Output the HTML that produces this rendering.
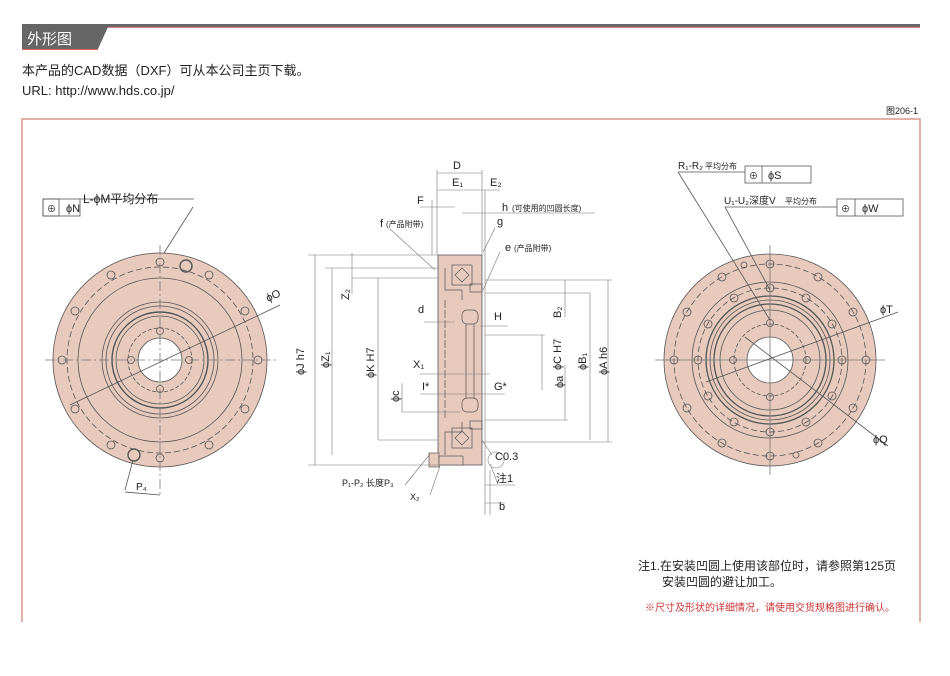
<!DOCTYPE html>
<html><head><meta charset="utf-8"><style>
body{margin:0;background:#fff;width:950px;height:676px;overflow:hidden;font-family:"Liberation Sans","Noto Sans CJK SC",sans-serif}
svg{position:absolute;left:0;top:0}
text{font-family:"Liberation Sans","Noto Sans CJK SC",sans-serif;fill:#222}
</style></head><body>
<svg width="950" height="676" viewBox="0 0 950 676">
<!-- header -->
<rect x="22" y="24" width="898" height="3" fill="#666"/>
<line x1="22" y1="27.5" x2="920" y2="27.5" stroke="#d88" stroke-width="1"/>
<polygon points="22,27 108,27 98,49 22,49" fill="#666"/>
<line x1="22" y1="49.5" x2="98" y2="49.5" stroke="#d66" stroke-width="1"/>
<text x="27" y="44" font-size="15" fill="#fff" style="fill:#fff">外形图</text>
<text x="22" y="75" font-size="13">本产品的CAD数据（DXF）可从本公司主页下载。</text>
<text x="22" y="95" font-size="13" font-family="Liberation Mono">URL: http://www.hds.co.jp/</text>
<text x="918" y="114" font-size="9" text-anchor="end">图206-1</text>
<!-- frame -->
<path d="M22,622 V119 H920 V622" fill="none" stroke="#d9968a" stroke-width="1.5"/>

<!-- LEFT VIEW -->
<g stroke="#555" stroke-width="0.8" fill="none">
<circle cx="160" cy="360" r="107" fill="#e8cabd"/>
<circle cx="160" cy="360" r="93" stroke-dasharray="6 3"/>
<circle cx="160" cy="360" r="82"/>
<circle cx="160" cy="360" r="58"/>
<circle cx="160" cy="360" r="54"/>
<circle cx="160" cy="360" r="48" stroke-width="1.4"/>
<circle cx="160" cy="360" r="44"/>
<circle cx="160" cy="360" r="32" stroke-dasharray="4 2"/>
<circle cx="160" cy="360" r="22" fill="#fff"/>
<circle cx="131" cy="360" r="3.5"/><circle cx="189" cy="360" r="3.5"/>
<circle cx="160" cy="331" r="3.5"/><circle cx="160" cy="389" r="3.5"/>
<g>
<circle cx="160" cy="262" r="4"/><circle cx="160" cy="458" r="4"/>
<circle cx="62" cy="360" r="4"/><circle cx="258" cy="360" r="4"/>
<circle cx="111" cy="275" r="4"/><circle cx="209" cy="275" r="4"/>
<circle cx="111" cy="445" r="4"/><circle cx="209" cy="445" r="4"/>
<circle cx="75" cy="311" r="4"/><circle cx="245" cy="311" r="4"/>
<circle cx="75" cy="409" r="4"/><circle cx="245" cy="409" r="4"/>
<circle cx="186" cy="266" r="6" stroke-width="1.4"/><circle cx="134" cy="455" r="6" stroke-width="1.4"/>
</g>
<line x1="45" y1="360" x2="278" y2="360" stroke-dasharray="10 3 2 3" stroke="#777"/>
<line x1="160" y1="245" x2="160" y2="495" stroke-dasharray="10 3 2 3" stroke="#777"/>
<line x1="70" y1="405" x2="280" y2="305"/>
<line x1="164" y1="253" x2="193" y2="207"/>
<line x1="133" y1="460" x2="125" y2="490"/>
<line x1="125" y1="492" x2="160" y2="495"/>
<rect x="43" y="199" width="37" height="17" fill="#fff"/><rect x="43" y="199" width="16" height="17"/>
<line x1="80" y1="199" x2="194" y2="199"/>
</g>
<text x="47" y="212" font-size="9">⊕</text><text x="66" y="212" font-size="11">ϕN</text>
<text x="83" y="203" font-size="12">L-ϕM平均分布</text>
<text x="268" y="302" font-size="11" transform="rotate(-25 268 302)">ϕO</text>
<text x="136" y="490" font-size="10">P₄</text>

<!-- MIDDLE VIEW -->
<g stroke="#555" stroke-width="0.7" fill="none">
<rect x="438" y="255" width="44" height="210" fill="#e8cabd" stroke="#444"/>
<rect x="429" y="453" width="10" height="14" fill="#e8cabd"/>
<rect x="439" y="456" width="24" height="9" fill="#e8cabd"/>
<path d="M445,268 V290 H462 V300"/><path d="M445,455 V432 H462 V422"/>
<rect x="452" y="265" width="20" height="20"/><rect x="452" y="428" width="20" height="20"/>
<path d="M455,275 L462,268 L469,275 L462,282 Z"/><path d="M455,438 L462,431 L469,438 L462,445 Z"/>
<rect x="462" y="310" width="16" height="14" rx="5"/><rect x="462" y="398" width="16" height="14" rx="5"/>
<path d="M466,324 V398 M474,324 V398"/>
<rect x="470" y="284" width="12" height="8"/><rect x="470" y="421" width="12" height="8"/>
<line x1="445" y1="300" x2="445" y2="420" stroke-dasharray="8 2"/>
</g>
<g stroke="#777" stroke-width="0.6" fill="none">
<line x1="437" y1="170" x2="437" y2="255"/><line x1="482" y1="170" x2="482" y2="255"/>
<line x1="485" y1="190" x2="485" y2="515"/><line x1="490" y1="470" x2="490" y2="515"/>
<line x1="437" y1="173" x2="482" y2="173"/>
<line x1="437" y1="190" x2="480" y2="190"/><line x1="480" y1="190" x2="500" y2="190"/>
<line x1="432" y1="200" x2="432" y2="255"/><line x1="420" y1="207" x2="455" y2="207"/>
<line x1="462" y1="213" x2="595" y2="213"/>
<line x1="308" y1="255" x2="438" y2="255"/><line x1="325" y1="268" x2="438" y2="268"/>
<line x1="352" y1="278" x2="438" y2="278"/>
<line x1="315" y1="255" x2="315" y2="465"/><line x1="308" y1="465" x2="438" y2="465"/>
<line x1="332" y1="268" x2="332" y2="455"/>
<line x1="378" y1="278" x2="378" y2="440"/><line x1="378" y1="440" x2="438" y2="440"/>
<line x1="402" y1="383" x2="402" y2="412"/><line x1="402" y1="412" x2="460" y2="412"/>
<line x1="424" y1="322" x2="455" y2="322"/><line x1="480" y1="326" x2="508" y2="326"/>
<line x1="420" y1="374" x2="490" y2="374"/><line x1="420" y1="394" x2="505" y2="394"/>
<line x1="485" y1="280" x2="612" y2="280"/><line x1="485" y1="293" x2="590" y2="293"/>
<line x1="485" y1="335" x2="545" y2="335"/><line x1="485" y1="420" x2="568" y2="420"/>
<line x1="482" y1="442" x2="612" y2="442"/>
<line x1="565" y1="280" x2="565" y2="317"/><line x1="608" y1="280" x2="608" y2="442"/>
<line x1="590" y1="293" x2="590" y2="440"/><line x1="542" y1="335" x2="542" y2="390"/>
<line x1="565" y1="365" x2="565" y2="420"/>
<line x1="430" y1="454" x2="405" y2="485"/><line x1="440" y1="466" x2="430" y2="495"/>
<line x1="482" y1="440" x2="492" y2="455"/><line x1="490" y1="464" x2="498" y2="484"/>
<line x1="485" y1="485" x2="515" y2="485"/>
<line x1="352" y1="253" x2="352" y2="294"/>
<line x1="390" y1="229" x2="435" y2="270"/><line x1="483" y1="252" x2="495" y2="228"/>
<line x1="483" y1="290" x2="500" y2="252"/>
<line x1="485" y1="503" x2="505" y2="503"/>
</g>
<circle cx="496" cy="460" r="8" fill="none" stroke="#999" stroke-width="0.7"/>
<g font-size="11">
<text x="453" y="169">D</text><text x="452" y="186">E₁</text><text x="490" y="186">E₂</text>
<text x="417" y="204">F</text>
<text x="502" y="211">h</text><text x="512" y="211" font-size="8">(可使用的凹圆长度)</text>
<text x="380" y="227">f</text><text x="386" y="227" font-size="8">(产品附带)</text>
<text x="497" y="225">g</text>
<text x="505" y="251">e</text><text x="514" y="251" font-size="8">(产品附带)</text>
<text x="418" y="313">d</text><text x="494" y="320">H</text>
<text x="413" y="368">X₁</text><text x="422" y="390">I*</text><text x="494" y="390">G*</text>
<text x="495" y="460">C0.3</text><text x="496" y="482">注1</text>
<text x="342" y="486" font-size="9">P₁-P₂ 长度P₃</text>
<text x="410" y="500" font-size="9">X₂</text><text x="499" y="510">b</text>
<g transform="rotate(-90)">
<text x="-375" y="304">ϕJ h7</text><text x="-368" y="329">ϕZ₁</text><text x="-300" y="349">Z₂</text>
<text x="-378" y="374">ϕK H7</text><text x="-402" y="399">ϕc</text>
<text x="-370" y="561">ϕC H7</text><text x="-385" y="561" font-size="0"></text>
<text x="-386" y="560" font-size="0"></text>
<text x="-386" y="586" font-size="0"></text>
<text x="-318" y="561">B₂</text><text x="-370" y="586">ϕB₁</text><text x="-375" y="607">ϕA h6</text>
</g>
<text transform="rotate(-90)" x="-384" y="560"> </text>
<text transform="rotate(-90)" x="-388" y="563">ϕa</text>
</g>

<!-- RIGHT VIEW -->
<g stroke="#555" stroke-width="0.8" fill="none">
<circle cx="770" cy="360" r="106" fill="#e8cabd"/>
<circle cx="770" cy="360" r="96" stroke-dasharray="6 3"/>
<circle cx="770" cy="360" r="78"/>
<circle cx="770" cy="360" r="72" stroke-dasharray="6 3"/>
<circle cx="770" cy="360" r="64" stroke-width="1.3"/>
<circle cx="770" cy="360" r="60"/>
<circle cx="770" cy="360" r="56" stroke-width="1.3"/>
<circle cx="770" cy="360" r="50"/>
<circle cx="770" cy="360" r="36" stroke-dasharray="4 2"/>
<circle cx="770" cy="360" r="23" fill="#fff"/>
<circle cx="770" cy="288" r="4"/><circle cx="770" cy="432" r="4"/><circle cx="698" cy="360" r="4"/><circle cx="842" cy="360" r="4"/>
<circle cx="734" cy="298" r="4"/><circle cx="806" cy="298" r="4"/><circle cx="734" cy="422" r="4"/><circle cx="806" cy="422" r="4"/>
<circle cx="708" cy="324" r="4"/><circle cx="832" cy="324" r="4"/><circle cx="708" cy="396" r="4"/><circle cx="832" cy="396" r="4"/>
<circle cx="770" cy="323" r="3.5"/><circle cx="770" cy="397" r="3.5"/><circle cx="733" cy="360" r="3.5"/><circle cx="807" cy="360" r="3.5"/>
<circle cx="770" cy="264" r="4"/><circle cx="770" cy="456" r="4"/><circle cx="674" cy="360" r="4"/><circle cx="866" cy="360" r="4"/>
<circle cx="722" cy="277" r="4"/><circle cx="818" cy="277" r="4"/><circle cx="722" cy="443" r="4"/><circle cx="818" cy="443" r="4"/>
<circle cx="687" cy="312" r="4"/><circle cx="853" cy="312" r="4"/><circle cx="687" cy="408" r="4"/><circle cx="853" cy="408" r="4"/>
<circle cx="744" cy="265" r="3"/><circle cx="796" cy="455" r="3"/>
<line x1="655" y1="360" x2="885" y2="360" stroke="#777"/>
<line x1="770" y1="245" x2="770" y2="475" stroke="#777"/>
<line x1="706" y1="382" x2="898" y2="312"/>
<line x1="745" y1="337" x2="888" y2="446"/>
<line x1="678" y1="172" x2="770" y2="320"/>
<line x1="725" y1="207" x2="770" y2="290"/>
<rect x="745" y="166" width="66" height="17" fill="#fff"/><line x1="762" y1="166" x2="762" y2="183"/>
<rect x="837" y="199" width="66" height="17" fill="#fff"/><line x1="855" y1="199" x2="855" y2="216"/>
<line x1="678" y1="172" x2="745" y2="172"/><line x1="725" y1="207" x2="837" y2="207"/>
</g>
<text x="678" y="169" font-size="10">R₁-R₂</text><text x="705" y="169" font-size="8">平均分布</text>
<text x="749" y="179" font-size="9">⊕</text><text x="768" y="179" font-size="11">ϕS</text>
<text x="724" y="204" font-size="10">U₁-U₂深度V</text><text x="785" y="204" font-size="8">平均分布</text>
<text x="841" y="212" font-size="9">⊕</text><text x="862" y="212" font-size="11">ϕW</text>
<text x="880" y="313" font-size="11">ϕT</text>
<text x="873" y="443" font-size="11">ϕQ</text>

<!-- notes -->
<text x="638" y="570" font-size="12">注1.在安装凹圆上使用该部位时，请参照第125页</text>
<text x="662" y="586" font-size="12">安装凹圆的避让加工。</text>
<text x="645" y="611" font-size="10" style="fill:#c33">※尺寸及形状的详细情况，请使用交货规格图进行确认。</text>
</svg>
</body></html>
